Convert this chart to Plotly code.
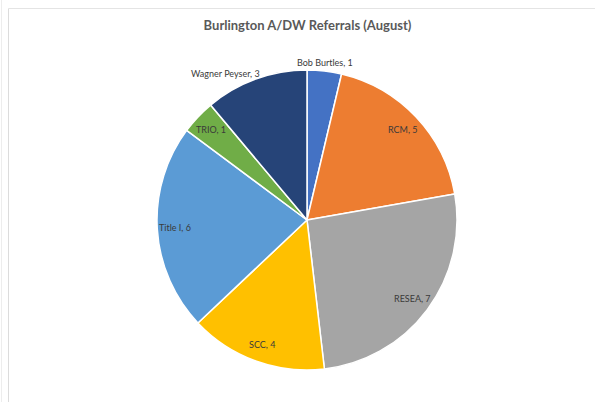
import math
import plotly.graph_objects as go

categories = ["Bob Burtles", "RCM", "RESEA", "SCC", "Title I", "TRIO", "Wagner Peyser"]
values = [1, 5, 7, 4, 6, 1, 3]
colors = ["#4472C4", "#ED7D31", "#A5A5A5", "#FFC000", "#5B9BD5", "#70AD47", "#264478"]

# label placement styles (fraction of radius, anchor, shift)
label_r = [1.06, 0.88, 0.88, 0.88, 0.88, 0.88, 1.04]
label_xanchor = ["center", "center", "center", "center", "center", "center", "right"]
label_xshift = [0, 0, 0, 0, 0, 0, 8]

W, H = 597, 402
cx, cy, R = 307, 220, 150  # pie centre and radius in pixels

dom_x = [(cx - R) / W, (cx + R) / W]
dom_y = [1 - (cy + R) / H, 1 - (cy - R) / H]

fig = go.Figure(go.Pie(
    labels=categories,
    values=values,
    sort=False,
    direction="clockwise",
    rotation=0,
    marker=dict(colors=colors, line=dict(color="white", width=1.5)),
    textinfo="none",
    showlegend=False,
    hoverinfo="label+value",
    domain=dict(x=dom_x, y=dom_y),
))

font = dict(family="Lato, Open Sans, sans-serif", size=9, color="#3A3A3A")
total = sum(values)
cum = 0
annotations = []
for i, (lab, v) in enumerate(zip(categories, values)):
    mid = (cum + v / 2) / total * 2 * math.pi
    cum += v
    px = cx + label_r[i] * R * math.sin(mid)
    py = cy - label_r[i] * R * math.cos(mid)
    annotations.append(dict(
        x=px / W, y=1 - py / H, xref="paper", yref="paper",
        text=f"{lab}, {v}", showarrow=False,
        xanchor=label_xanchor[i], yanchor="middle", xshift=label_xshift[i],
        font=font,
    ))

fig.update_layout(
    width=W, height=H,
    margin=dict(l=0, r=0, t=0, b=0),
    paper_bgcolor="white",
    title=dict(text="<b>Burlington A/DW Referrals (August)</b>", x=307.5 / W, xanchor="center",
               y=1 - 25 / H, yanchor="middle",
               font=dict(family="Lato, Open Sans, sans-serif", size=13, color="#595959")),
    annotations=annotations,
    shapes=[
        dict(type="line", xref="paper", yref="paper", x0=1.5 / W, x1=1.5 / W, y0=0.0, y1=1.0,
             line=dict(color="#EDEDED", width=1)),
        dict(type="line", xref="paper", yref="paper", x0=8.5 / W, x1=8.5 / W, y0=0.0, y1=1 - 8.5 / H,
             line=dict(color="#DCDCDC", width=1)),
        dict(type="line", xref="paper", yref="paper", x0=8.5 / W, x1=595 / W, y0=1 - 8.5 / H, y1=1 - 8.5 / H,
             line=dict(color="#E4E4E4", width=1)),
    ],
)

fig.write_html("out.html",
               config={"displayModeBar": False},
               post_script="document.body.style.margin='0';document.body.style.padding='0';document.body.style.overflow='hidden';")
